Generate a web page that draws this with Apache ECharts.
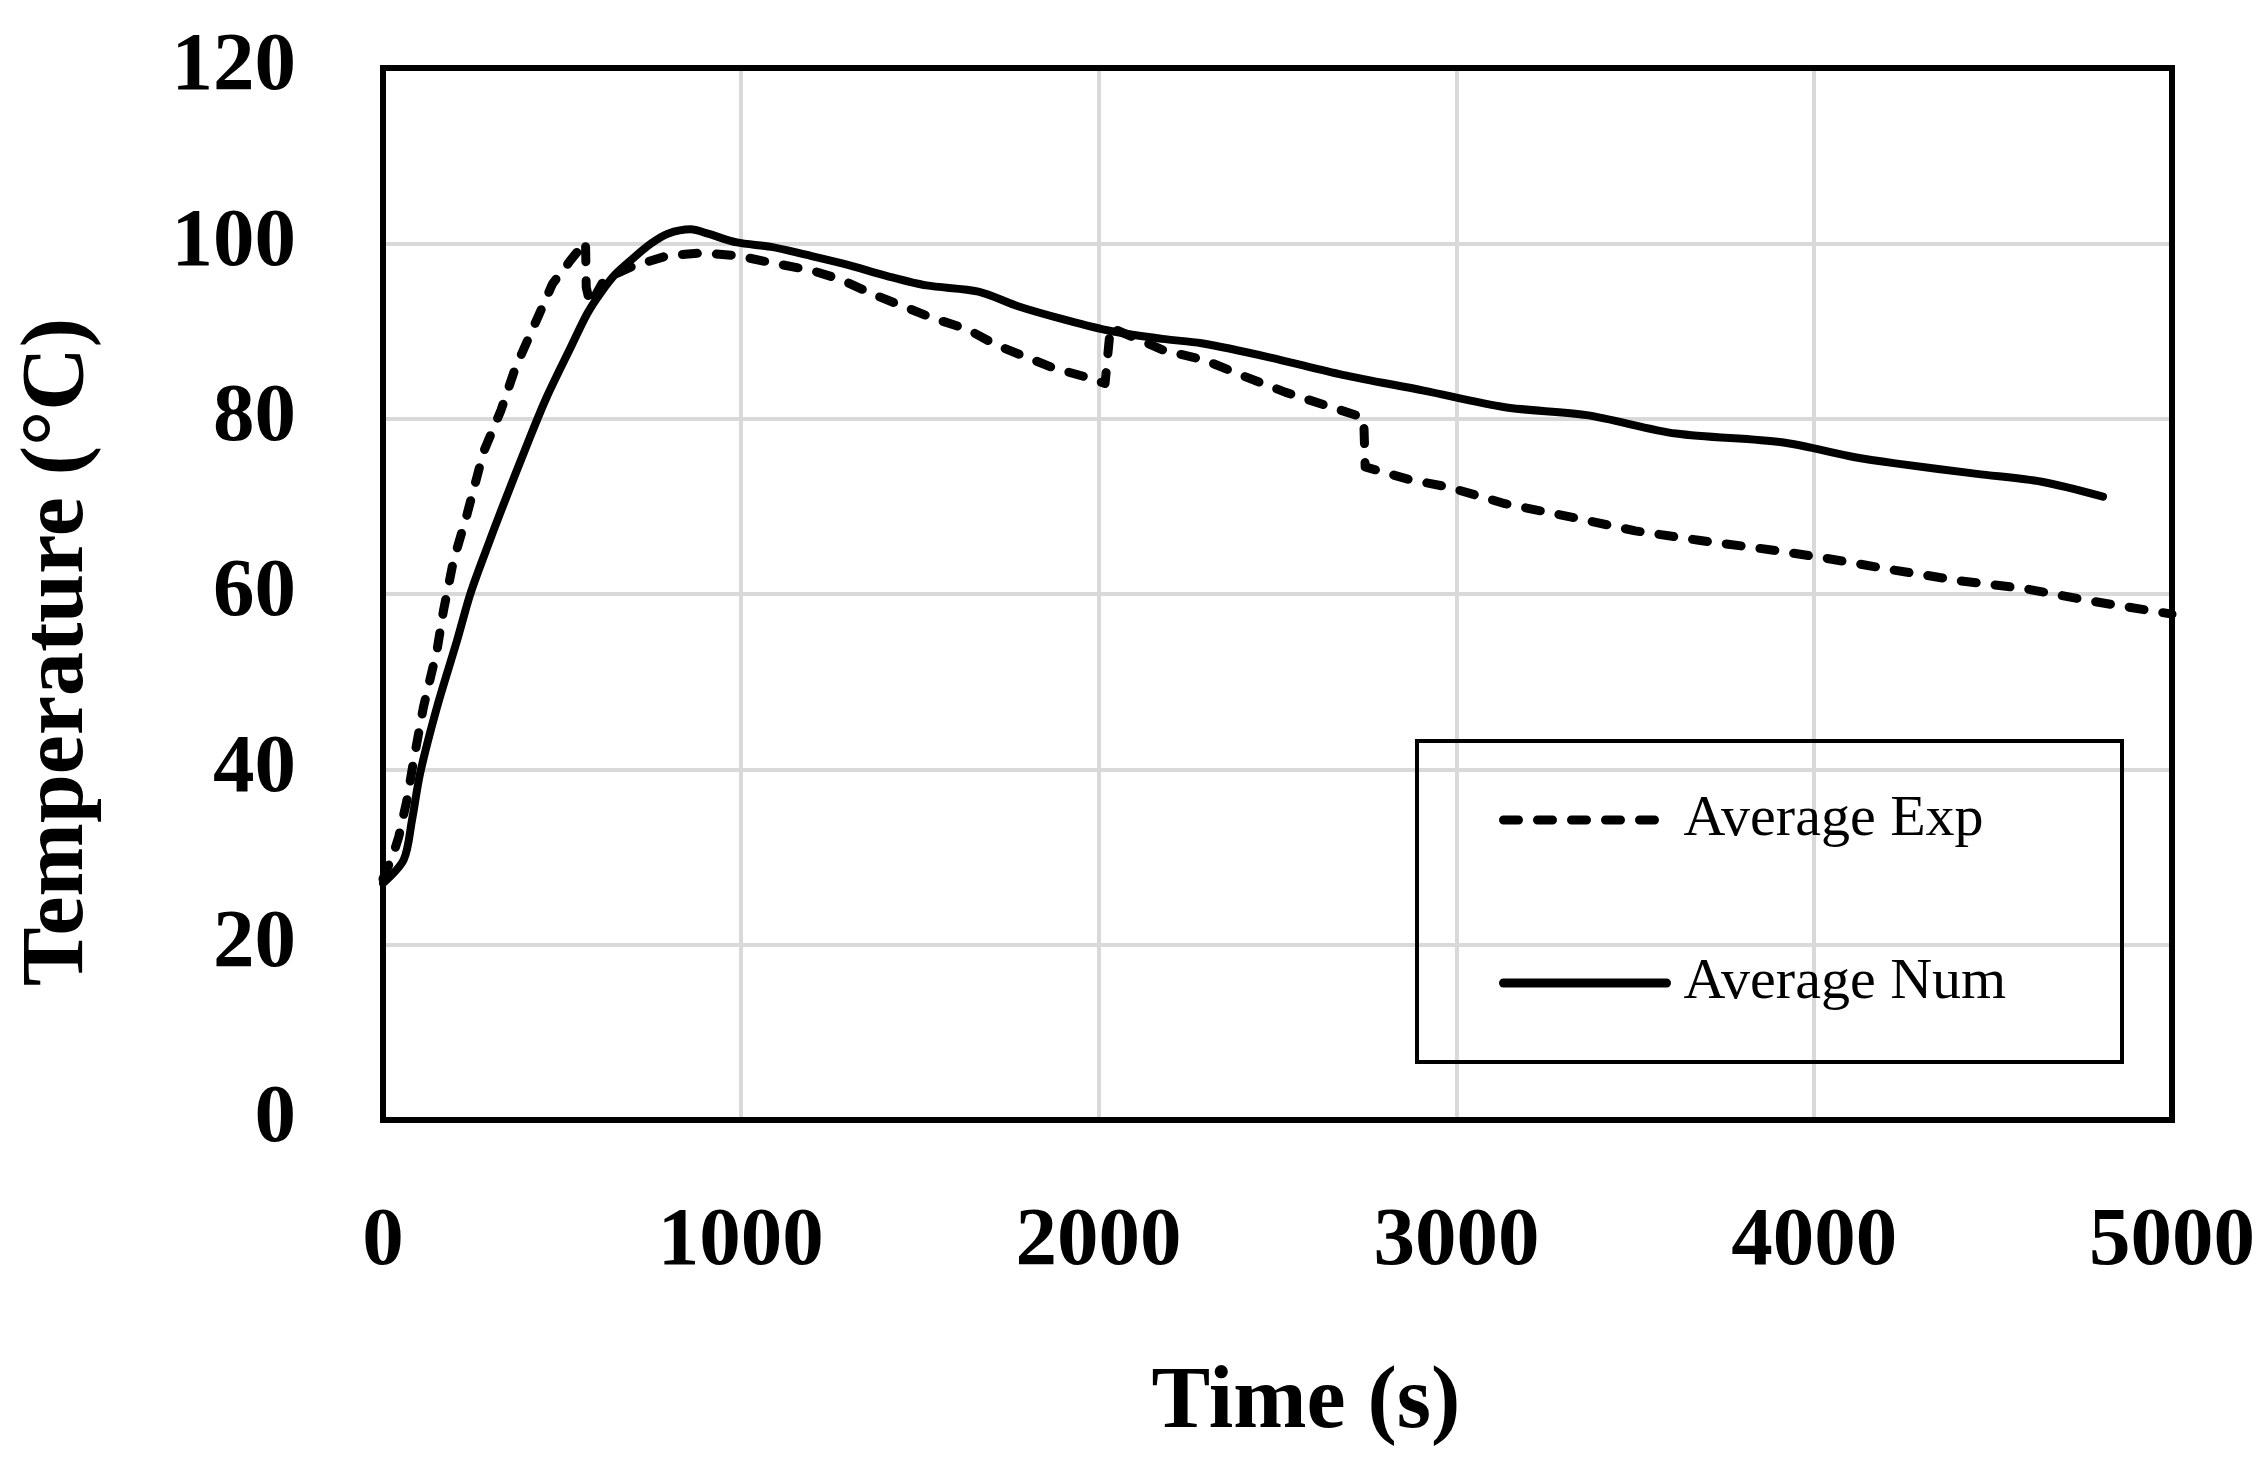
<!DOCTYPE html>
<html>
<head>
<meta charset="utf-8">
<script src="https://cdn.jsdelivr.net/npm/echarts@6/dist/echarts.min.js"></script>
<style>
html,body{margin:0;padding:0;background:#fff;}
#chart{width:2267px;height:1465px;}
</style>
</head>
<body>
<div id="chart"></div>
<script>
// ---- data ----
const expTime = [0, 30, 44, 67, 86, 113, 151, 169, 197, 235, 281, 330, 370, 418, 474, 523, 566, 568, 579, 619, 699, 796, 892, 989, 1085, 1198, 1278, 1375, 1455, 1535, 1633, 1714, 1793, 1873, 1969, 2018, 2033, 2182, 2295, 2409, 2523, 2636, 2727, 2741, 2745, 2864, 2977, 3136, 3318, 3500, 3682, 3886, 4045, 4227, 4409, 4591, 4773, 5000];
const expTemp = [27.5, 30.5, 32.3, 36.5, 41.1, 47.1, 53.6, 58.1, 63.8, 69.1, 76.2, 81.0, 85.8, 90.2, 95.4, 98.0, 100.2, 95.0, 93.0, 95.9, 97.4, 98.6, 98.9, 98.6, 97.8, 96.9, 95.9, 94.1, 92.8, 91.5, 90.2, 88.4, 87.1, 85.8, 84.7, 84.0, 90.4, 87.8, 86.7, 84.8, 83.0, 81.5, 80.3, 80.0, 74.5, 73.1, 72.2, 70.3, 68.8, 67.2, 66.1, 65.0, 64.0, 62.7, 61.5, 60.6, 59.2, 57.7];
const numTime = [0, 58, 81, 104, 151, 207, 244, 291, 330, 410, 458, 523, 571, 611, 650, 699, 750, 796, 860, 908, 989, 1085, 1182, 1294, 1407, 1519, 1664, 1777, 1905, 2034, 2178, 2288, 2477, 2682, 2909, 3136, 3364, 3614, 3909, 4114, 4227, 4455, 4636, 4807];
const numTemp = [27.0, 29.7, 34.2, 39.6, 47.1, 54.7, 60.0, 65.3, 69.5, 77.8, 82.5, 88.0, 92.0, 94.5, 96.5, 98.3, 100.0, 101.1, 101.6, 101.1, 100.1, 99.6, 98.7, 97.6, 96.3, 95.2, 94.5, 92.8, 91.3, 90.0, 89.1, 88.6, 87.0, 85.0, 83.2, 81.3, 80.4, 78.3, 77.3, 75.6, 74.9, 73.7, 72.8, 71.1];
const seriesNames = ['Average Exp', 'Average Num'];
const xTitle = 'Time (s)';
const yTitle = 'Temperature (°C)';

const FONT = '"Liberation Serif", "DejaVu Serif", serif';
const pairs = (xs, ys) => xs.map((x, i) => [x, ys[i]]);

const chart = echarts.init(document.getElementById('chart'), null, {renderer: 'canvas'});
chart.setOption({
  backgroundColor: '#ffffff',
  animation: false,
  grid: {left: 383, top: 68, width: 1789, height: 1052, show: false},
  xAxis: {
    type: 'value', min: 0, max: 5000, interval: 1000,
    axisLine: {show: false}, axisTick: {show: false},
    splitLine: {show: true, lineStyle: {color: '#d9d9d9', width: 4}},
    axisLabel: {margin: 81, color: '#000', fontFamily: FONT, fontWeight: 'bold', fontSize: 83,
                formatter: v => String(v)}
  },
  yAxis: {
    type: 'value', min: 0, max: 120, interval: 20,
    axisLine: {show: false}, axisTick: {show: false},
    splitLine: {show: true, lineStyle: {color: '#d9d9d9', width: 4}},
    axisLabel: {margin: 87, color: '#000', fontFamily: FONT, fontWeight: 'bold', fontSize: 83,
                formatter: v => String(v)}
  },
  legend: {
    orient: 'vertical', left: 1499, top: 791, padding: 0,
    itemWidth: 163, itemHeight: 20, itemGap: 105,
    data: [
      {name: seriesNames[0], lineStyle: {width: 9, type: [15, 19], cap: 'round', color: '#000'}},
      {name: seriesNames[1], lineStyle: {width: 9, type: 'solid', cap: 'round', color: '#000'}}
    ],
    itemStyle: {opacity: 0},
    textStyle: {fontFamily: FONT, fontSize: 58, color: '#000', padding: [0, 0, 0, 12]}
  },
  graphic: [
    {type: 'rect', shape: {x: 383, y: 68, width: 1789, height: 1052},
     style: {fill: 'rgba(0,0,0,0)', stroke: '#000', lineWidth: 6}, z: 10},
    {type: 'rect', shape: {x: 1417, y: 741, width: 705, height: 321},
     style: {fill: 'rgba(0,0,0,0)', stroke: '#000', lineWidth: 4}, z: 10},
    {type: 'text', x: 1306, y: 1404,
     style: {text: xTitle, fontFamily: FONT, fontWeight: 'bold', fontSize: 88, fill: '#000', align: 'center', verticalAlign: 'middle'}},
    {type: 'text', x: 59, y: 652, rotation: Math.PI / 2,
     style: {text: yTitle, fontFamily: FONT, fontWeight: 'bold', fontSize: 88, fill: '#000', align: 'center', verticalAlign: 'middle'}}
  ],
  series: [
    {
      name: seriesNames[0], type: 'line', data: pairs(expTime, expTemp),
      symbol: 'none', smooth: false, z: 3,
      lineStyle: {color: '#000', width: 9, type: [15, 19], cap: 'round', join: 'round'},
      itemStyle: {color: '#000'}
    },
    {
      name: seriesNames[1], type: 'line', data: pairs(numTime, numTemp),
      symbol: 'none', smooth: 0.3, z: 4,
      lineStyle: {color: '#000', width: 8, cap: 'round', join: 'round'},
      itemStyle: {color: '#000'}
    }
  ]
});
</script>
</body>
</html>
